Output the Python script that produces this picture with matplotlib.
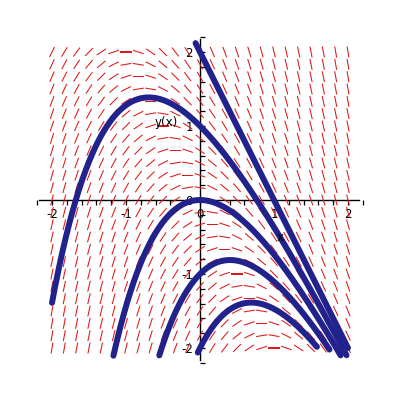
import numpy as np
import matplotlib
matplotlib.use("Agg")
import matplotlib.pyplot as plt
from matplotlib.ticker import FixedLocator

# ODE: dy/dx = -2x - y  (direction field + solution curves)
slope_coeff_x = -2.0
slope_coeff_y = -1.0

# initial conditions y(0) and integration extents
init_y0 = [2.0, 1.0, 0.0, -1.0, -2.0]
x_start = [-0.06, -2.0, -1.17, -0.55, -0.03]
x_end = [2.0, 1.98, 1.9, 1.75, 1.58]

# direction-field grid
field_x = np.linspace(-2, 2, 25)
field_y = np.linspace(-2, 2, 25)

major_ticks = [-2, -1, 0, 1, 2]
tick_labels = ["-2", "-1", "0", "1", "2"]


def f(x, y):
    return slope_coeff_x * x + slope_coeff_y * y


def integrate(y0, x0, x1, n=400):
    xs = np.linspace(x0, x1, n)
    ys = np.empty(n)
    ys[0] = y0
    for i in range(n - 1):
        h = xs[i + 1] - xs[i]
        x, y = xs[i], ys[i]
        k1 = f(x, y)
        k2 = f(x + h / 2, y + h / 2 * k1)
        k3 = f(x + h / 2, y + h / 2 * k2)
        k4 = f(x + h, y + h * k3)
        ys[i + 1] = y + h / 6 * (k1 + 2 * k2 + 2 * k3 + k4)
    return xs, ys


fig = plt.figure(figsize=(4, 4), dpi=100)
ax = fig.add_axes([0, 0, 1, 1])
lim = 200 / 74.0
ax.set_xlim(-lim, lim)
ax.set_ylim(-lim, lim)

# direction field
X, Y = np.meshgrid(field_x, field_y)
S = f(X, Y)
norm = np.sqrt(1 + S ** 2)
seg_len = 0.15
U = seg_len / norm
V = seg_len * S / norm
ax.quiver(X, Y, U, V, angles='xy', scale_units='xy', scale=1, pivot='mid',
          headwidth=0, headlength=0, headaxislength=0, units='dots', width=1.05,
          color='#e01818', linewidth=0, zorder=2)

# solution curves
for y0, xa, xb in zip(init_y0, x_start, x_end):
    xl, yl = integrate(y0, 0.0, xa)
    xr, yr = integrate(y0, 0.0, xb)
    xs = np.concatenate([xl[::-1], xr[1:]])
    ys = np.concatenate([yl[::-1], yr[1:]])
    ax.plot(xs, ys, color='#22228c', lw=4.3, solid_capstyle='round', zorder=3)

# axes through origin
for side in ['top', 'right']:
    ax.spines[side].set_visible(False)
ax.spines['left'].set_position(('data', 0))
ax.spines['bottom'].set_position(('data', 0))
ax.spines['bottom'].set_bounds(-2.17, 2.15)
ax.spines['left'].set_bounds(-2.16, 2.18)
for sp in ['left', 'bottom']:
    ax.spines[sp].set_linewidth(1.0)
    ax.spines[sp].set_zorder(1)

minor = [round(v, 1) for v in np.arange(-2.2, 2.21, 0.2) if abs(v - round(v)) > 1e-6]
ax.xaxis.set_major_locator(FixedLocator(major_ticks))
ax.yaxis.set_major_locator(FixedLocator(major_ticks))
ax.xaxis.set_minor_locator(FixedLocator(minor))
ax.yaxis.set_minor_locator(FixedLocator(minor))
ax.set_xticklabels(tick_labels)
ax.set_yticklabels(tick_labels)
ax.tick_params(axis='x', which='both', direction='out', length=3.5, width=0.9, pad=2.0, labelsize=8.5)
ax.tick_params(axis='y', which='both', direction='in', length=3.5, width=0.9, pad=5.0, labelsize=8.5)

ax.text(-0.45, 1.05, "y(x)", fontsize=8.5, ha='center', va='center')
ax.text(1.08, -0.51, "x", fontsize=8.5, ha='center', va='center')

fig.savefig("out.png", dpi=100, facecolor='white')
